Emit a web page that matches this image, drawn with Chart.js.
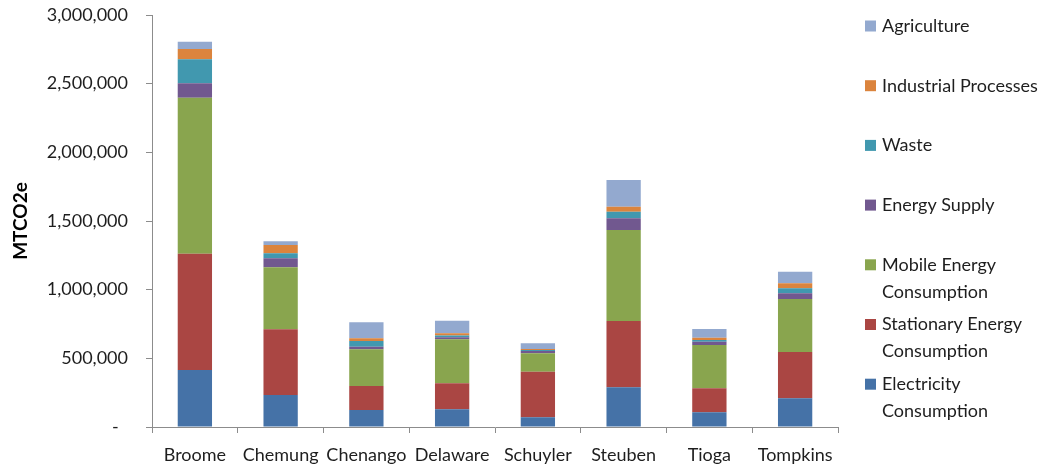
<!DOCTYPE html>
<html>
<head>
<meta charset="utf-8">
<script src="https://cdn.jsdelivr.net/npm/chart.js@4/dist/chart.umd.min.js"></script>
<style>
  html, body { margin: 0; padding: 0; background: #ffffff; }
  #wrap { width: 1052px; height: 466px; position: relative; }
</style>
</head>
<body>
<div id="wrap"><canvas id="chart" width="1052" height="466"></canvas></div>
<script>
// Greenhouse gas emissions by county and sector (MTCO2e)
const counties = ['Broome', 'Chemung', 'Chenango', 'Delaware', 'Schuyler', 'Steuben', 'Tioga', 'Tompkins'];

const electricity  = [415000, 233000, 124000, 129000,  71000, 289000, 107000, 209000];
const stationary   = [847000, 478000, 175000, 189000, 332000, 483000, 175000, 337000];
const mobile       = [1136000, 452000, 267000, 321000, 134000, 662000, 315000, 386000];
const energySupply = [105000,  65000,  19000,  14000,  16000,  86000,  24000,  42000];
const waste        = [174000,  37000,  41000,  13000,   8000,  48000,  13000,  36000];
const industrial   = [ 75000,  60000,  20000,  17000,   7000,  36000,  16000,  36000];
const agriculture  = [ 54000,  27000, 116000,  91000,  41000, 195000,  64000,  85000];

const yTicks = [0, 500000, 1000000, 1500000, 2000000, 2500000, 3000000];

const FONT = 'Lato, "Open Sans", sans-serif';
const TEXT = '#1e1e1e';

// Legend drawn on the right, top entry first, long names on two lines
const sideLegend = {
  id: 'sideLegend',
  afterDraw(chart, args, opts) {
    const ctx = chart.ctx;
    const sets = chart.data.datasets.slice().reverse();
    ctx.save();
    ctx.font = opts.font;
    ctx.textBaseline = 'middle';
    ctx.textAlign = 'left';
    sets.forEach((ds, i) => {
      const cy = opts.top + i * opts.step;
      ctx.fillStyle = ds.backgroundColor;
      ctx.fillRect(opts.x, cy - opts.box / 2, opts.box, opts.box);
      ctx.fillStyle = TEXT;
      ds.label.split('\n').forEach((line, j) => {
        ctx.fillText(line, opts.x + opts.box + opts.gap, cy + j * opts.lineHeight);
      });
    });
    ctx.restore();
  }
};

new Chart(document.getElementById('chart'), {
  type: 'bar',
  data: {
    labels: counties,
    datasets: [
      { label: 'Electricity\nConsumption', data: electricity, backgroundColor: '#4572A7' },
      { label: 'Stationary Energy\nConsumption', data: stationary, backgroundColor: '#AA4643' },
      { label: 'Mobile Energy\nConsumption', data: mobile, backgroundColor: '#89A54E' },
      { label: 'Energy Supply', data: energySupply, backgroundColor: '#71588F' },
      { label: 'Waste', data: waste, backgroundColor: '#4198AF' },
      { label: 'Industrial Processes', data: industrial, backgroundColor: '#DB843D' },
      { label: 'Agriculture', data: agriculture, backgroundColor: '#93A9CF' }
    ]
  },
  options: {
    responsive: false,
    animation: false,
    datasets: { bar: { barPercentage: 0.4, categoryPercentage: 1.0, borderWidth: 0 } },
    layout: { padding: { top: 0, right: 214, bottom: 0, left: 0 } },
    plugins: {
      legend: { display: false },
      tooltip: { enabled: false },
      sideLegend: { x: 865, top: 26, step: 59.7, box: 11, gap: 6, lineHeight: 27, font: '18px ' + FONT }
    },
    scales: {
      x: {
        stacked: true,
        offset: true,
        grid: { display: true, offset: true, drawOnChartArea: false, drawTicks: true, tickLength: 6, color: '#8c8c8c' },
        border: { display: true, color: '#8c8c8c', width: 1 },
        ticks: { color: TEXT, font: { family: FONT, size: 18 }, padding: 11, maxRotation: 0, autoSkip: false },
        afterFit(scale) { scale.height = 39; }
      },
      y: {
        stacked: true,
        min: 0,
        max: 3000000,
        afterBuildTicks(scale) { scale.ticks = yTicks.map(v => ({ value: v })); },
        grid: { display: true, drawOnChartArea: false, drawTicks: true, tickLength: 6, color: '#8c8c8c' },
        border: { display: true, color: '#8c8c8c', width: 1 },
        ticks: {
          color: TEXT,
          font: { family: FONT, size: 18 },
          padding: 18,
          callback: v => v === 0 ? '-  ' : v.toLocaleString('en-US')
        },
        title: {
          display: true,
          text: 'MTCO2e',
          color: '#000',
          font: { family: FONT, size: 19, weight: 'bold' },
          padding: { top: 9, bottom: 0 }
        },
        afterFit(scale) {
          scale.width = 152;
          scale.paddingTop = 15;
          scale.paddingBottom = 15;
        }
      }
    }
  },
  plugins: [sideLegend]
});
</script>
</body>
</html>
